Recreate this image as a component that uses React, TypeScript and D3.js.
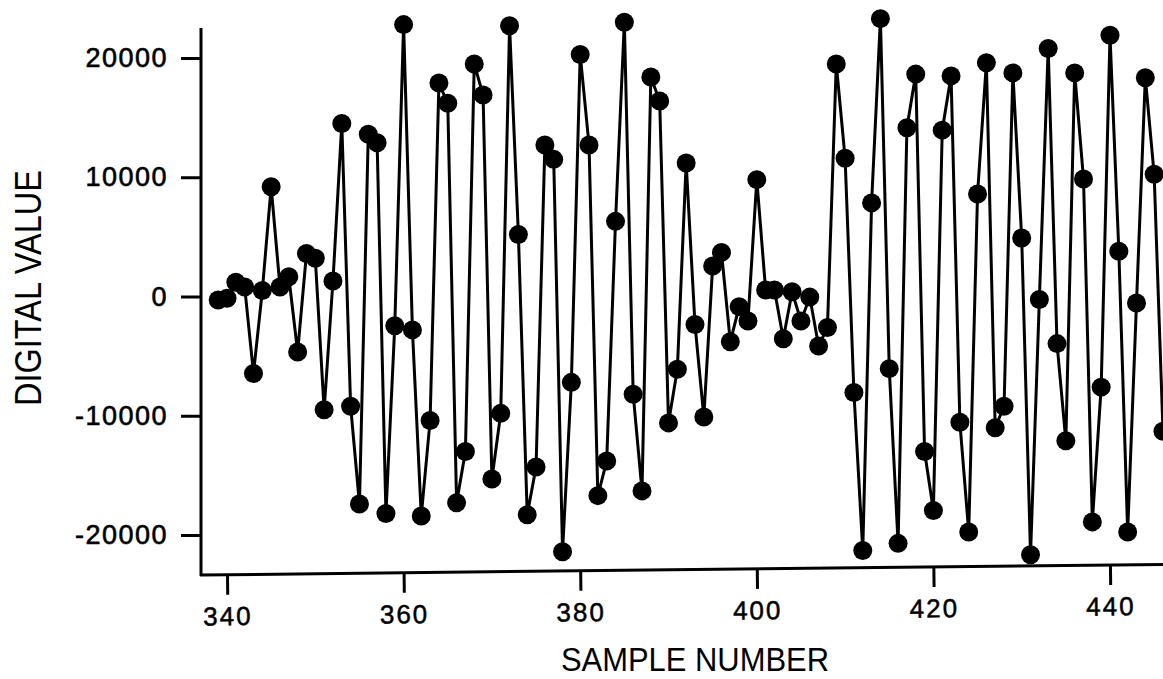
import React, { useEffect, useRef } from 'react';
import * as d3 from 'd3';

const firstSample = 339;
const digitalValues = [
  -300, -150, 1200, 800, -6450, 500, 9200, 800, 1650, -4650,
  3600, 3200, -9500, 1300, 14500, -9200, -17400, 13600, 12900, -18200,
  -2450, 22800, -2800, -18400, -10400, 17900, 16200, -17300, -13000, 19500,
  16900, -15300, -9800, 22700, 5200, -18300, -14300, 12700, 11500, -21400,
  -7200, 20300, 12700, -16700, -13800, 6300, 23000, -8200, -16300, 18400,
  16400, -10600, -6100, 11200, -2350, -10100, 2550, 3700, -3800, -850,
  -2050, 9800, 550, 550, -3550, 400, -2050, -50, -4150, -2600,
  19500, 11600, -8050, -21300, 7850, 23300, -6050, -20700, 14150, 18650,
  -13000, -17950, 13950, 18500, -10550, -19750, 8600, 19600, -11000, -9200,
  18750, 4900, -21650, -250, 20800, -3950, -12100, 18750, 9850, -18900,
  -7600, 21900, 3800, -19750, -550, 18350, 10250, -11300,
];
const xTicks = [340, 360, 380, 400, 420, 440];
const yTicks = [-20000, -10000, 0, 10000, 20000];
const xTitle = 'SAMPLE NUMBER';
const yTitle = 'DIGITAL VALUE';

export default function App() {
  const ref = useRef<SVGSVGElement>(null);
  useEffect(() => {
    const svg = d3.select(ref.current);
    svg.selectAll('*').remove();
    const W = 1163, H = 679;
    const x = d3.scaleLinear().domain([340, 440]).range([227, 1110]);
    const y = d3.scaleLinear().domain([-20000, 20000]).range([535, 58]);
    const axisX = 201, axisY = 575;
    const font = "'Liberation Sans', Arial, Helvetica, sans-serif";

    svg.append('rect').attr('width', W).attr('height', H).attr('fill', '#fff');

    // Y axis
    const gy = svg.append('g').attr('transform', `translate(${axisX},0)`);
    gy.call(
      d3.axisLeft(y).tickValues(yTicks).tickSize(20).tickSizeOuter(0).tickPadding(13)
        .tickFormat((d: any) => String(d))
    );
    gy.select('.domain').remove();
    gy.selectAll('.tick line').attr('stroke', '#000').attr('stroke-width', 3);
    gy.selectAll('.tick text').attr('font-family', font).attr('font-size', 27)
      .attr('fill', '#000').attr('stroke', '#000').attr('stroke-width', 0.6)
      .attr('letter-spacing', 1.5);
    gy.append('line').attr('x1', 0).attr('x2', 0).attr('y1', 28).attr('y2', axisY + 1)
      .attr('stroke', '#000').attr('stroke-width', 3);

    // X axis (slightly rotated as in the scanned figure)
    const gxWrap = svg.append('g').attr('transform', `rotate(-0.63, ${axisX}, ${axisY})`);
    const gx = gxWrap.append('g').attr('transform', `translate(0,${axisY})`);
    gx.call(
      d3.axisBottom(x).tickValues(xTicks).tickSize(20).tickSizeOuter(0).tickPadding(12)
        .tickFormat((d: any) => String(d))
    );
    gx.select('.domain').remove();
    gx.selectAll('.tick line').attr('stroke', '#000').attr('stroke-width', 3);
    gx.selectAll('.tick text').attr('font-family', font).attr('font-size', 26)
      .attr('fill', '#000').attr('stroke', '#000').attr('stroke-width', 0.5)
      .attr('letter-spacing', 2);
    gx.append('line').attr('x1', axisX - 1).attr('x2', W + 5).attr('y1', 0).attr('y2', 0)
      .attr('stroke', '#000').attr('stroke-width', 3);

    // Titles
    svg.append('text').attr('x', 695).attr('y', 671).attr('text-anchor', 'middle')
      .attr('font-family', font).attr('font-size', 34).attr('fill', '#000')
      .attr('textLength', 268).attr('lengthAdjust', 'spacingAndGlyphs').text(xTitle);
    svg.append('text').attr('transform', 'translate(41,288) rotate(-90)').attr('text-anchor', 'middle')
      .attr('font-family', font).attr('font-size', 37).attr('fill', '#000')
      .attr('textLength', 236).attr('lengthAdjust', 'spacingAndGlyphs').text(yTitle);

    // Series
    const pts = digitalValues.map((v, i) => ({ n: firstSample + i, v }));
    const line = d3.line<{ n: number; v: number }>().x(d => x(d.n)).y(d => y(d.v));
    svg.append('path').datum(pts).attr('d', line as any).attr('fill', 'none')
      .attr('stroke', '#000').attr('stroke-width', 3).attr('stroke-linejoin', 'miter');
    svg.append('g').selectAll('circle').data(pts).join('circle')
      .attr('cx', d => x(d.n)).attr('cy', d => y(d.v)).attr('r', 9.5).attr('fill', '#000');
  }, []);
  return (
    <svg ref={ref} width={1163} height={679}
      style={{ position: 'absolute', left: 0, top: 0, display: 'block' }} />
  );
}
